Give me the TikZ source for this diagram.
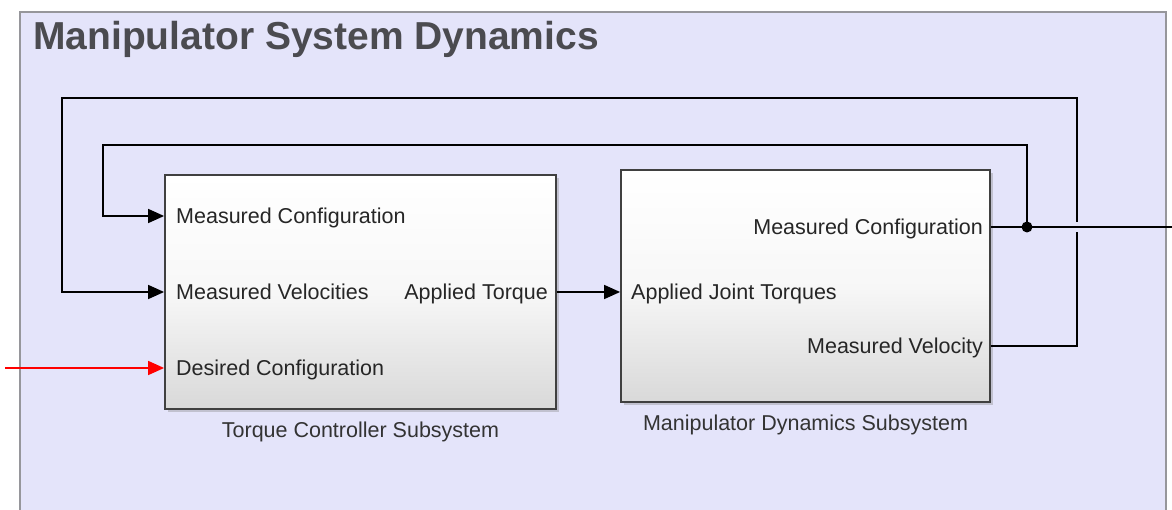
\documentclass[tikz,border=0pt]{standalone}
\usepackage{fontspec}
\setmainfont{Liberation Sans}
\usetikzlibrary{arrows.meta,shadows}

\definecolor{areafill}{RGB}{228,228,250}
\definecolor{areaedge}{RGB}{150,150,155}
\definecolor{titlegray}{RGB}{75,75,80}

\begin{document}
\begin{tikzpicture}[x=1pt,y=-1pt,>={Triangle[length=16pt,width=14pt]},
  blk/.style={draw=black!75,line width=1.8pt,top color=white,bottom color=black!15,middle color=black!3,
    drop shadow={shadow xshift=3pt,shadow yshift=-3pt,opacity=0.35},inner sep=0pt},
  lbl/.style={inner sep=0pt,text height=15.4pt,text depth=0pt,font=\fontsize{21.5}{24}\selectfont,text=black!85},
  subcap/.style={inner sep=0pt,text height=15pt,text depth=0pt,font=\fontsize{21.5}{24}\selectfont,text=black!80},
  sig/.style={line width=1.6pt}]
  \useasboundingbox (0,0) rectangle (1172,510);
  \clip (0,0) rectangle (1172,510);
  % model area
  \filldraw[fill=areafill,draw=areaedge,line width=2pt] (20,12) rectangle (1166,540);
  \node[anchor=base west,inner sep=0pt,text=titlegray,font=\fontsize{39}{44}\selectfont\bfseries] (title) at (33,50) {Manipulator System Dynamics};

  % subsystems
  \node[blk,minimum width=391pt,minimum height=234pt] (tc) at (360.5,292) {};
  \node[blk,minimum width=369pt,minimum height=232pt] (md) at (805.5,286) {};

  % port labels
  \node[lbl,anchor=west] (tcmc) at (176,216) {Measured Configuration};
  \node[lbl,anchor=west] (tcmv) at (176,292) {Measured Velocities};
  \node[lbl,anchor=west] (tcdc) at (176,368) {Desired Configuration};
  \node[lbl,anchor=east] (tcat) at (548,292) {Applied Torque};
  \node[lbl,anchor=west] (mdjt) at (631,292) {Applied Joint Torques};
  \node[lbl,anchor=east] (mdmc) at (983,227) {Measured Configuration};
  \node[lbl,anchor=east] (mdmv) at (983,346) {Measured Velocity};

  % captions
  \node[subcap,anchor=north] (tccap) at ([yshift=-12pt]tc.south) {Torque Controller Subsystem};
  \node[subcap,anchor=north] (mdcap) at ([yshift=-12pt]md.south) {Manipulator Dynamics Subsystem};

  % ports
  \coordinate (tcin1) at (tc.west |- tcmc);
  \coordinate (tcin2) at (tc.west |- tcmv);
  \coordinate (tcin3) at (tc.west |- tcdc);
  \coordinate (tcout) at (tc.east |- tcat);
  \coordinate (mdin) at (md.west |- mdjt);
  \coordinate (mdout1) at (md.east |- mdmc);
  \coordinate (mdout2) at (md.east |- mdmv);
  \coordinate (jn) at (1027,227);
  \coordinate (din) at (5,368);
  \coordinate (qout) at (1172,227);

  % signals
  \draw[sig,->] (tcout) -- (mdin);
  \draw[sig,->,red] (din) -- (tcin3);
  \draw[sig,->] (mdout2) -| (1077,98) -| (62,292) -- (tcin2);
  \draw[areafill,line width=4pt] (1077,222) -- (1077,232);
  \draw[sig] (mdout1) -- (qout);
  \draw[sig,->] (jn) |- (103,145) |- (tcin1);
  \fill (jn) circle[radius=5.5pt];
\end{tikzpicture}
\end{document}
